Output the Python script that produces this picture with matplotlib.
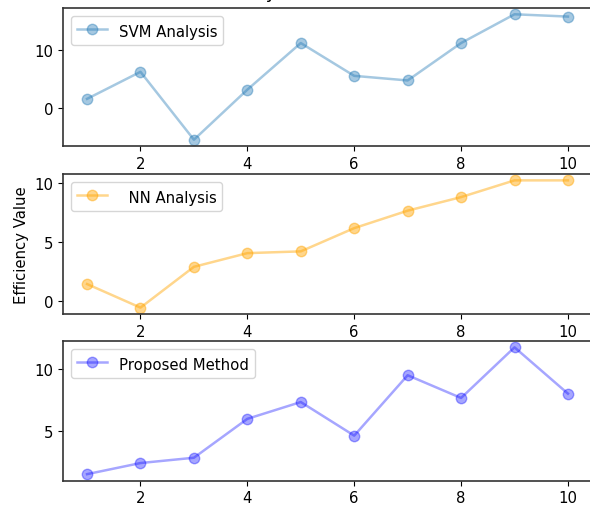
import matplotlib
matplotlib.use("Agg")
import matplotlib.pyplot as plt

plt.rcParams['font.family'] = ['DejaVu Sans']
plt.rcParams['font.size'] = 10.7

x = [1, 2, 3, 4, 5, 6, 7, 8, 9, 10]
svm_values = [1.5, 6.2, -5.6, 3.1, 11.2, 5.5, 4.7, 11.2, 16.2, 15.8]
nn_values = [1.43, -0.57, 2.89, 4.05, 4.2, 6.17, 7.65, 8.8, 10.22, 10.22]
proposed_values = [1.49, 2.39, 2.82, 5.97, 7.33, 4.61, 9.5, 7.66, 11.76, 8.01]

labels = ["SVM Analysis", "  NN Analysis", "Proposed Method"]
colors = ["#1f77b4", "orange", "blue"]
alphas = [0.4, 0.45, 0.35]
title = "Efficiency Values Across Methods"
ylabel = "Efficiency Value"

fig = plt.figure(figsize=(5.9, 5.1), dpi=100)
W, H = 590, 510
boxes = [(9, 147), (175, 315), (342, 481.5)]
axes = []
for (top, bot) in boxes:
    ax = fig.add_axes([63 / W, 1 - bot / H, 529 / W, (bot - top) / H])
    axes.append(ax)

for ax, vals, lab, col, a in zip(axes, [svm_values, nn_values, proposed_values], labels, colors, alphas):
    ax.plot(x, vals, marker='o', color=col, alpha=a, linewidth=1.8, markersize=7.5, label=lab)
    ax.legend(loc='upper left', handleheight=1.4, borderaxespad=0.55)
    for s in ax.spines.values():
        s.set_linewidth(1.2)
        s.set_color('#333333')
    ax.set_xticks([2, 4, 6, 8, 10])

axes[0].set_title(title, x=0.52, pad=8)
axes[1].set_ylabel(ylabel)

fig.savefig("out.png", dpi=100)
